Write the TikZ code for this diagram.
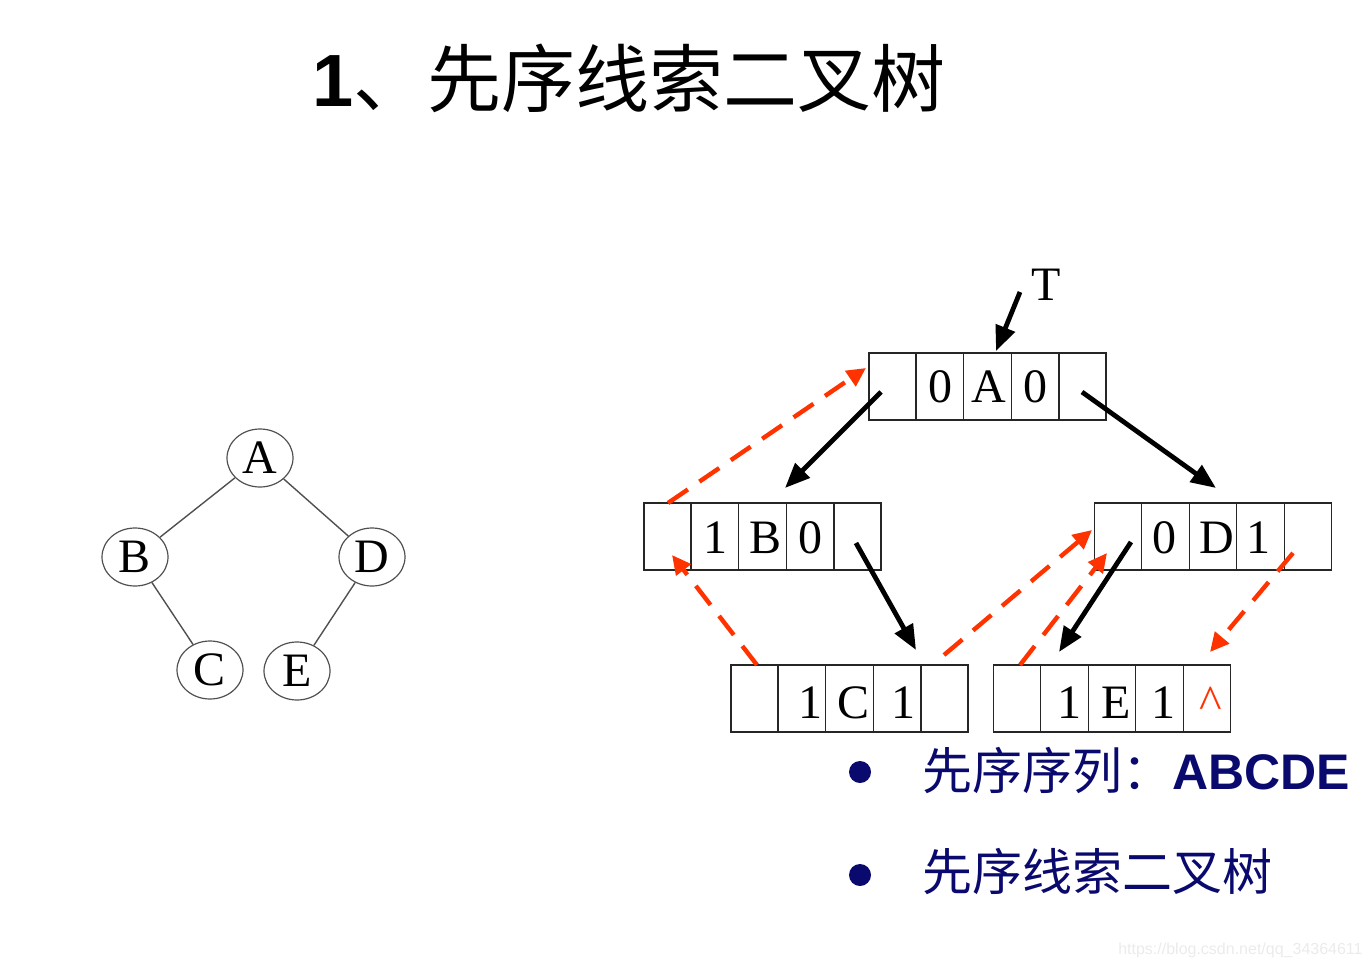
\documentclass[tikz,border=0pt]{standalone}
\usepackage{fontspec}
\setmainfont{Liberation Serif}
\setsansfont{Liberation Sans}
\newfontfamily\cjk{Noto Sans CJK SC}
\usetikzlibrary{arrows.meta,shapes.geometric,calc}
\definecolor{threadred}{RGB}{255,51,0}
\definecolor{slidenavy}{RGB}{10,10,110}
\definecolor{treegray}{RGB}{80,80,80}

\begin{document}
\begin{tikzpicture}[x=0.5pt, y=-0.5pt,
  treenode/.style={ellipse, draw=treegray, line width=0.6pt, minimum width=33pt, minimum height=29pt, inner sep=0pt, font=\fontsize{24}{28}\selectfont},
  cellbox/.style={draw=black!85, line width=0.6pt, minimum width=118.5pt, minimum height=33.5pt, inner sep=0pt},
  celltext/.style={anchor=base, inner sep=0pt, font=\fontsize{24}{28}\selectfont},
  pointer/.style={line width=2.4pt, -{Triangle[length=12.5pt,width=10pt]}},
  thread/.style={threadred, line width=2.2pt, dash pattern=on 12pt off 7pt, -{Triangle[length=9.5pt,width=9pt]}},
  bulletdot/.style={circle, fill=slidenavy, minimum size=11pt, inner sep=0pt},
  bullettext/.style={anchor=west, inner sep=0pt, text=slidenavy, font=\fontsize{25}{30}\selectfont}]

    % page size
    \useasboundingbox (0,0) rectangle (1370,969);

    % title
    \node[anchor=west, inner sep=0pt, font=\fontsize{37}{44}\selectfont] (title) at (312,78)
        {{\sffamily\bfseries 1}{\cjk 、先序线索二叉树}};

    % binary tree
    \node[treenode] (tA) at (260,458) {A};
    \node[treenode] (tB) at (135,557) {B};
    \node[treenode] (tD) at (372,557) {D};
    \node[treenode] (tC) at (210,670) {C};
    \node[treenode] (tE) at (297,671) {E};
    \draw[treegray, line width=0.7pt] (tA) -- (tB);
    \draw[treegray, line width=0.7pt] (tA) -- (tD);
    \draw[treegray, line width=0.7pt] (tB) -- (tC);
    \draw[treegray, line width=0.7pt] (tD) -- (tE);

    % thread nodes: lchild | ltag | data | rtag | rchild
    \node[cellbox] (bA) at (987.5,386.5) {};
    \node[cellbox] (bB) at (762.5,536.5) {};
    \node[cellbox] (bD) at (1213,536.5) {};
    \node[cellbox] (bC) at (849.5,698.5) {};
    \node[cellbox] (bE) at (1112,698.5) {};
    \foreach \bx in {bA,bB,bD,bC,bE}
        \foreach \i in {1,...,4}
            \draw[black!85, line width=0.6pt] ($(\bx.north west)!\i/5!(\bx.north east)$) -- ($(\bx.south west)!\i/5!(\bx.south east)$);

    \node[celltext] (aL) at (940,402) {0};
    \node[celltext] (aD) at (989,402) {A};
    \node[celltext] (aR) at (1035,402) {0};
    \node[celltext] (bL) at (715,553) {1};
    \node[celltext] (bDt) at (765,553) {B};
    \node[celltext] (bR) at (810,553) {0};
    \node[celltext] (dL) at (1164,553) {0};
    \node[celltext] (dDt) at (1217,553) {D};
    \node[celltext] (dR) at (1258,553) {1};
    \node[celltext] (cL) at (810,718) {1};
    \node[celltext] (cDt) at (853,718) {C};
    \node[celltext] (cR) at (903,718) {1};
    \node[celltext] (eL) at (1069,718) {1};
    \node[celltext] (eDt) at (1116,718) {E};
    \node[celltext] (eR) at (1163,718) {1};
    \node[celltext, text=threadred] (eNil) at (1211,718) {\textasciicircum};

    % head pointer
    \node[celltext] (T) at (1046,300) {T};
    \coordinate (tStart) at (1020,292);
    \coordinate (tEnd) at (996,351);
    \draw[pointer] (tStart) -- (tEnd);

    % child pointers
    \coordinate (aLc) at (881,392);
    \coordinate (aRc) at (1082,392);
    \coordinate (bRc) at (856,543);
    \coordinate (dLc) at (1131,542);
    \coordinate (toB) at (785,488);
    \coordinate (toD) at (1216,488);
    \coordinate (toC) at (916,650);
    \coordinate (toE) at (1059,652);
    \draw[pointer] (aLc) -- (toB);
    \draw[pointer] (aRc) -- (toD);
    \draw[pointer] (bRc) -- (toC);
    \draw[pointer] (dLc) -- (toE);

    % threads
    \coordinate (bThr) at (668,503);
    \coordinate (atA) at (866,368);
    \coordinate (cThrL) at (757,665);
    \coordinate (atB) at (672,555);
    \coordinate (cThrR) at (944,655);
    \coordinate (atD) at (1092,530);
    \coordinate (eThr) at (1020,665);
    \coordinate (atD2) at (1107,553);
    \coordinate (dThr) at (1293,553);
    \coordinate (atE) at (1210,652);
    \draw[thread] (bThr) -- (atA);
    \draw[thread] (cThrL) -- (atB);
    \draw[thread] (cThrR) -- (atD);
    \draw[thread] (eThr) -- (atD2);
    \draw[thread] (dThr) -- (atE);

    % bullets
    \node[bulletdot] (dot1) at (860,772) {};
    \node[bulletdot] (dot2) at (860,875) {};
    \node[bullettext] (line1) at (922,770) {{\cjk 先序序列：}{\sffamily\bfseries ABCDE}};
    \node[bullettext] (line2) at (922,871) {\cjk 先序线索二叉树};

    % watermark
    \node[anchor=east, inner sep=0pt, text=black!8, font=\sffamily\fontsize{8}{10}\selectfont] (mark) at (1363,950) {https://blog.csdn.net/qq\_34364611};

\end{tikzpicture}
\end{document}
